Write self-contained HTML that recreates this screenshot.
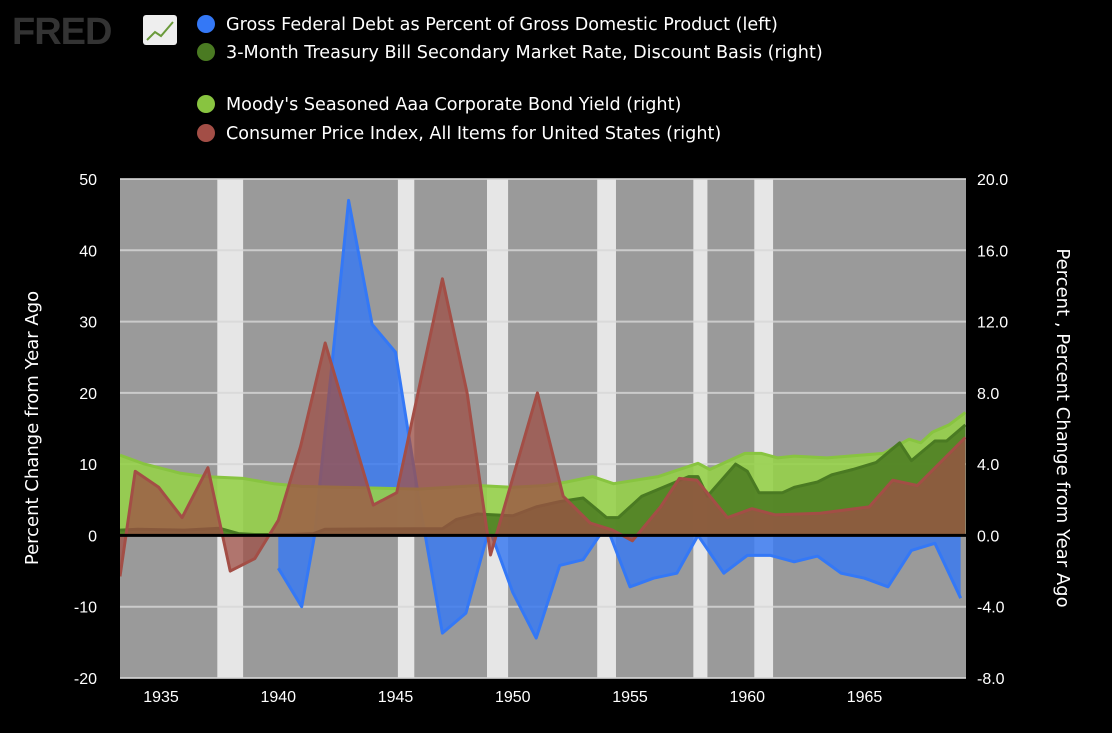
<!DOCTYPE html>
<html><head><meta charset="utf-8">
<style>
body{margin:0;background:#000;width:1112px;height:728px;overflow:hidden;font-family:"Liberation Sans",sans-serif;}
svg text{font-family:"Liberation Sans",sans-serif;fill:#fff;}
svg text.dv{font-family:"DejaVu Sans","Liberation Sans",sans-serif;}
</style></head>
<body>
<svg id="c" width="1112" height="728">
  <g>
    <text x="12" y="44" font-size="38" font-weight="bold" style="fill:#333" letter-spacing="-1">FRED</text>
    <rect x="143" y="15" width="34" height="30" rx="3" fill="#eee"/>
    <polyline points="147,40 155,32 161,36 173,22" fill="none" stroke="#6a9a3a" stroke-width="2"/>
  </g>
  <g id="legend"></g>
  <g id="plot"></g>
  <g id="axes"></g>
</svg>
<script>
const recStart=[1937.4,1945.1,1948.9,1953.6,1957.7,1960.3];
const recEnd=[1938.5,1945.8,1949.8,1954.4,1958.3,1961.1];
const debtYears=[1940,1941,1941.55,1943,1944,1945,1946,1947,1948,1949,1950,1951,1952,1953,1953.7,1954.1,1955,1956,1957,1957.9,1959,1960,1961,1962,1963,1964,1965,1966,1967,1968,1969.1];
const debtVals=[-4.6,-10,0,47,29.6,25.7,5,-13.7,-10.9,1,-8,-14.4,-4.2,-3.4,0,0.5,-7.2,-6,-5.3,0,-5.3,-2.8,-2.8,-3.7,-2.9,-5.3,-6,-7.2,-2.1,-1.1,-8.8];
const cpiYears=[1933.25,1933.9,1934.9,1935.9,1937,1937.95,1939,1940,1940.95,1942,1944.05,1945.05,1947,1948.05,1949.05,1951.05,1952.15,1953.3,1954.25,1955.1,1956.3,1957.1,1957.85,1959.15,1960.2,1961.2,1963.1,1965.2,1966.2,1967.25,1969.3];
const cpiVals=[-2.3,3.6,2.7,1.0,3.8,-2.0,-1.3,0.85,5.0,10.8,1.7,2.4,14.4,8.0,-1.1,8.0,2.2,0.7,0.3,-0.3,1.6,3.2,3.1,1.0,1.5,1.15,1.25,1.6,3.1,2.8,5.5];
const tbYears=[1933.25,1934,1936,1937.5,1938.3,1939,1940.5,1941.5,1942,1946,1947,1947.6,1948.5,1950,1951,1952,1953,1954,1954.5,1955.5,1957.5,1957.9,1958.3,1959.5,1960,1960.5,1961.5,1962,1963,1963.6,1964.5,1965.5,1966.5,1967,1968,1968.5,1969.3];
const tbVals=[0.3,0.35,0.3,0.4,0.1,0.05,0.05,0.1,0.35,0.38,0.38,0.9,1.2,1.1,1.6,1.9,2.1,1.0,1.0,2.2,3.3,3.3,2.2,4.0,3.6,2.4,2.4,2.7,3.0,3.4,3.7,4.1,5.2,4.2,5.3,5.3,6.2];
const aaaYears=[1933.25,1934.3,1935.8,1936.9,1938.5,1939.8,1941,1946,1948.5,1950,1951.4,1952.3,1953.4,1954.3,1956.2,1957.9,1958.4,1959.9,1960.6,1961.3,1962,1963.4,1965.8,1966.9,1967.4,1967.9,1968.6,1969.3];
const aaaVals=[4.5,4.0,3.5,3.3,3.2,2.9,2.75,2.6,2.8,2.7,2.8,3.0,3.3,2.9,3.3,4.05,3.7,4.6,4.6,4.35,4.45,4.35,4.6,5.4,5.2,5.8,6.2,6.9];
const leftTicks=[50,40,30,20,10,0,-10,-20];
const rightTicks=["20.0","16.0","12.0","8.0","4.0","0.0","-4.0","-8.0"];
const xTicks=[1935,1940,1945,1950,1955,1960,1965];

const X0=120,X1=966,Y0=179,Y1=678;
const ns="http://www.w3.org/2000/svg";
const xs=y=>X0+(y-1933.25)*23.45;
const yl=v=>Y0+(50-v)*(Y1-Y0)/70;
const yr=v=>Y0+(20-v)*(Y1-Y0)/28;
function mk(tag,attrs,parent){const e=document.createElementNS(ns,tag);for(const k in attrs)e.setAttribute(k,attrs[k]);parent.appendChild(e);return e;}
const plot=document.getElementById('plot'),axes=document.getElementById('axes'),leg=document.getElementById('legend');
const defs=mk('defs',{},plot);const cp=mk('clipPath',{id:'cp'},defs);mk('rect',{x:X0,y:Y0,width:X1-X0,height:Y1-Y0},cp);
const bg=mk('rect',{x:X0,y:Y0,width:X1-X0,height:Y1-Y0,fill:'#9a9a9a'},plot);


recStart.forEach((s,i)=>{const r=mk('rect',{x:xs(s),y:Y0,width:xs(recEnd[i])-xs(s),height:Y1-Y0,fill:'#e6e6e6'},plot);

});
leftTicks.forEach(t=>{if(t===0)return;const l=mk('line',{x1:X0,x2:X1,y1:yl(t),y2:yl(t),stroke:'#d8d8d8','stroke-width':2,opacity:0.8},plot);

});
const g=mk('g',{'clip-path':'url(#cp)'},plot);
function area(xsArr,vals,yf,fill,stroke,op,name){
  let d='M'+xs(xsArr[0])+','+yf(0);
  xsArr.forEach((x,i)=>d+=' L'+xs(x).toFixed(1)+','+yf(vals[i]).toFixed(1));
  d+=' L'+xs(xsArr[xsArr.length-1])+','+yf(0)+' Z';
  const a=mk('path',{d:d,fill:fill,'fill-opacity':op},g);
  
  
  const l=mk('polyline',{points:xsArr.map((x,i)=>xs(x).toFixed(1)+','+yf(vals[i]).toFixed(1)).join(' '),fill:'none',stroke:stroke,'stroke-width':3,'stroke-linejoin':'round'},g);
  
  
}
area(debtYears,debtVals,yl,'#3b7af0','#3478f6',0.85,'debt');
area(aaaYears,aaaVals,yr,'#96d04a','#88c440',0.9,'aaa-yield');
area(tbYears,tbVals,yr,'#4f7f24','#4a7a22',0.9,'tbill-rate');
area(cpiYears,cpiVals,yr,'#9e4f45','#a34e46',0.75,'cpi');
const z=mk('line',{x1:X0,x2:X1,y1:yl(0),y2:yl(0),stroke:'#000','stroke-width':3},plot);


leftTicks.forEach(t=>{const e=mk('text',{x:97,y:yl(t)+6,'font-size':16,'text-anchor':'end'},axes);e.textContent=t;

});
rightTicks.forEach((t,i)=>{const e=mk('text',{x:977,y:yl(leftTicks[i])+6,'font-size':16},axes);e.textContent=t;

});
xTicks.forEach(t=>{const e=mk('text',{x:xs(t),y:702,'font-size':16,'text-anchor':'middle'},axes);e.textContent=t;

});
const lt=mk('text',{x:38,y:428,'font-size':18,'text-anchor':'middle','class':'dv',transform:'rotate(-90 38 428)'},axes);lt.textContent='Percent Change from Year Ago';


const rt=mk('text',{x:1057,y:428,'font-size':18,'text-anchor':'middle','class':'dv',transform:'rotate(90 1057 428)'},axes);rt.textContent='Percent , Percent Change from Year Ago';


const legItems=[["Gross Federal Debt as Percent of Gross Domestic Product (left)","#3478f6",30],["3-Month Treasury Bill Secondary Market Rate, Discount Basis (right)","#4a7a22",58],["Moody's Seasoned Aaa Corporate Bond Yield (right)","#88c440",110],["Consumer Price Index, All Items for United States (right)","#a34e46",139]];
legItems.forEach(it=>{const c=mk('circle',{cx:206,cy:it[2]-6,r:9,fill:it[1]},leg);


const t=mk('text',{x:226,y:it[2],'font-size':17.6,'class':'dv'},leg);t.textContent=it[0];

});
</script>
</body></html>
